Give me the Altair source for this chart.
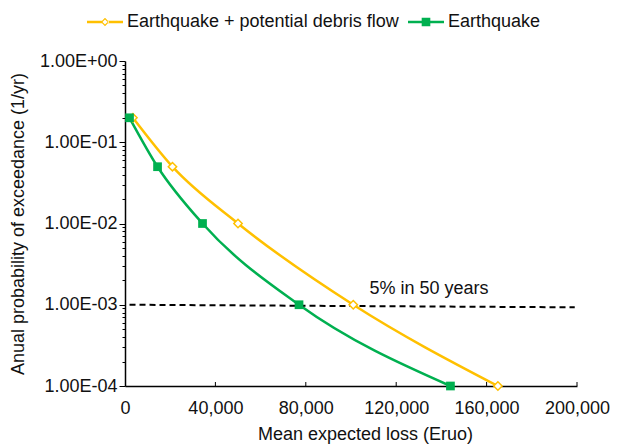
import altair as alt
import pandas as pd

# ---- data ----
series_a = "Earthquake + potential debris flow"
series_b = "Earthquake"
prob = [0.2, 0.05, 0.01, 0.001, 0.0001]
loss_a = [3500, 21000, 50000, 101000, 165000]
loss_b = [2000, 14400, 34300, 77000, 144000]
ref_loss = [2000, 199000]
ref_prob = [0.001, 0.00093]
note_text = ["5% in 50 years"]
note_loss = [134500]
note_prob = [0.00137]
x_ticks = [0, 40000, 80000, 120000, 160000, 200000]
x_inner_ticks = [40000, 80000, 120000, 160000, 200000]
decades = [1e-4, 1e-3, 1e-2, 1e-1, 1.0]
y_ticks = [m * d for d in decades[:-1] for m in range(1, 10)] + [1.0]
colors = ["#FFC000", "#00B050"]
FONT = "Liberation Sans"

df = pd.DataFrame({
    "series": [series_a] * len(prob) + [series_b] * len(prob),
    "loss": loss_a + loss_b,
    "prob": prob + prob,
})
ref_df = pd.DataFrame({"loss": ref_loss, "prob": ref_prob})
note_df = pd.DataFrame({"loss": note_loss, "prob": note_prob, "label": note_text})
tick_df = pd.DataFrame({"loss": x_inner_ticks,
                        "prob": [decades[0]] * len(x_inner_ticks),
                        "prob2": [decades[0] * 1.12] * len(x_inner_ticks)})

lg = "log(datum.value)/LN10"
major = f"abs({lg} - round({lg})) < 0.001"
label_expr = (f"{major} ? '1.00E' + (round({lg}) < 0 ? '-' : '+') + "
              f"(abs(round({lg})) < 10 ? '0' : '') + abs(round({lg})) : ''")

x_enc = alt.X("loss:Q",
              scale=alt.Scale(domain=[0, 200000], nice=False, zero=False),
              axis=alt.Axis(values=x_ticks, labelExpr="format(datum.value, ',')",
                            title="Mean expected loss (Eruo)", titleX=240,
                            ticks=False, labelPadding=13, titlePadding=8,
                            labelOverlap=False, labelFlush=False))
y_enc = alt.Y("prob:Q",
              scale=alt.Scale(type="log", domain=[1e-4, 1], nice=False),
              axis=alt.Axis(values=y_ticks, labelExpr=label_expr, labelOverlap=False,
                            tickSize={"condition": {"test": major, "value": 6}, "value": 3},
                            labelPadding=2,
                            title="Anual probability of exceedance (1/yr)", titlePadding=12))

color_scale = alt.Scale(domain=[series_a, series_b], range=colors)

path_a = ("M-1,-0.07 L-0.16,-0.07 L-0.16,0.07 L-1,0.07 Z "
          "M1,-0.07 L0.16,-0.07 L0.16,0.07 L1,0.07 Z "
          "M-0.23,0 L0,-0.23 L0.23,0 L0,0.23 Z "
          "M-0.14,0 L0,0.14 L0.14,0 L0,-0.14 Z")
path_b = ("M-1,-0.07 L-0.24,-0.07 L-0.24,-0.24 L0.24,-0.24 L0.24,-0.07 L1,-0.07 "
          "L1,0.07 L0.24,0.07 L0.24,0.24 L-0.24,0.24 L-0.24,0.07 L-1,0.07 Z")

leg = alt.Legend(title=None, orient="none", legendX=-38, legendY=-57,
                 direction="horizontal", columns=2, symbolSize=1296,
                 symbolStrokeWidth=0, labelFontSize=18, labelFont=FONT,
                 labelColor="#111", labelOffset=4, labelLimit=600,
                 columnPadding=9, padding=0)

base = alt.Chart(df)

# legend source layer comes first so its legend settings win the merge
legend_layer = base.transform_filter("false").mark_point(filled=True, opacity=1).encode(
    x=x_enc, y=y_enc,
    color=alt.Color("series:N", scale=color_scale, legend=leg),
    shape=alt.Shape("series:N",
                    scale=alt.Scale(domain=[series_a, series_b], range=[path_a, path_b]),
                    legend=leg))

lines = base.mark_line(interpolate="monotone", strokeWidth=2.5).encode(
    x="loss:Q", y="prob:Q",
    color=alt.Color("series:N", scale=color_scale, legend=None))

pts_a = base.transform_filter(alt.datum.series == series_a).mark_point(
    shape="diamond", size=70, filled=False, fill="white", strokeWidth=1.5, opacity=1
).encode(x="loss:Q", y="prob:Q",
         color=alt.Color("series:N", scale=color_scale, legend=None))

pts_b = base.transform_filter(alt.datum.series == series_b).mark_point(
    shape="square", size=76, filled=True, opacity=1
).encode(x="loss:Q", y="prob:Q",
         color=alt.Color("series:N", scale=color_scale, legend=None))

ref_line = alt.Chart(ref_df).mark_line(strokeDash=[6, 4], color="black", strokeWidth=2).encode(
    x="loss:Q", y="prob:Q")

note = alt.Chart(note_df).mark_text(fontSize=18, font=FONT, align="center",
                                    baseline="alphabetic", color="#111").encode(
    x="loss:Q", y="prob:Q", text="label:N")

xticks = alt.Chart(tick_df).mark_rule(color="black", strokeWidth=1).encode(
    x="loss:Q", y="prob:Q", y2="prob2:Q")

chart = alt.layer(legend_layer, lines, ref_line, note, pts_a, pts_b, xticks).properties(
    width=452, height=325,
    autosize=alt.AutoSizeParams(type="none"),
    padding={"left": 117, "top": 53, "right": 33, "bottom": 58},
).configure_view(stroke=None).configure_axis(
    grid=False, labelFont=FONT, titleFont=FONT, labelFontSize=18, titleFontSize=18,
    titleFontWeight="normal", labelColor="#111", titleColor="#111",
    domainColor="black", domainWidth=1.5, tickColor="black", tickWidth=1,
)

chart.save("out.html", embed_options={"renderer": "svg", "actions": False})
